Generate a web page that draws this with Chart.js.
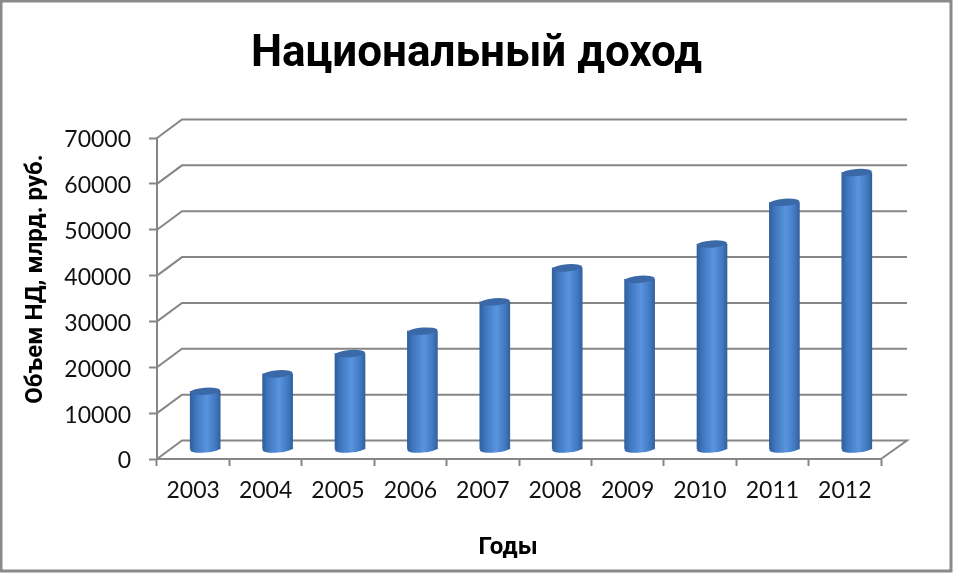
<!DOCTYPE html>
<html lang="ru">
<head>
<meta charset="utf-8">
<title>Национальный доход</title>
<script src="https://cdn.jsdelivr.net/npm/chart.js@4"></script>
<style>
html,body{margin:0;padding:0;background:#fff;}
#box{position:relative;width:953px;height:573px;}
canvas{display:block;filter:blur(0.45px);}
</style>
</head>
<body>
<div id="box"><canvas id="c" width="953" height="573"></canvas></div>
<script>
const categories = ['2003','2004','2005','2006','2007','2008','2009','2010','2011','2012'];
const nationalIncome = [12700,16500,20900,25800,32200,39600,37100,44800,53900,60400];
const chartTitle = 'Национальный доход';
const xTitle = 'Годы';
const yTitle = 'Объем НД, млрд. руб.';

const DEPTH_X = 25, DEPTH_Y = 18.5;      // wall offset of the 3D frame
const BAR_DX = 12, BAR_DY = 9.5;         // cylinders stand mid-depth
const RY = 3.6, TILT = -0.08;
const GREY = '#868686';

function bodyGradient(c, left, width){
  const g = c.createLinearGradient(left, 0, left + width, 0);
  g.addColorStop(0, '#30609e');
  g.addColorStop(0.2, '#4078c0');
  g.addColorStop(0.55, '#5a94de');
  g.addColorStop(0.85, '#4078c0');
  g.addColorStop(1, '#32609c');
  return g;
}

// Shifts a scale's title along its axis without touching the tick layout.
function shiftTitle(scale, side, amount){
  if (scale.__shifted) return;
  scale.__shifted = true;
  const draw = scale.drawTitle;
  scale.drawTitle = function(){
    const keep = this[side];
    this[side] = keep - amount;
    draw.call(this);
    this[side] = keep;
  };
}

const frame3d = {
  id: 'frame3d',
  afterLayout(chart){
    chart.titleBlock.left = 0;
    chart.titleBlock.right = chart.width;
    shiftTitle(chart.scales.y, 'bottom', 39);
    shiftTitle(chart.scales.x, 'right', 22);
  },
  beforeDraw(chart){
    const c = chart.ctx;
    c.save();
    c.fillStyle = '#fff';
    c.fillRect(0, 0, chart.width, chart.height);
    c.strokeStyle = '#8a8a8a';
    c.lineWidth = 3;
    c.strokeRect(1, 1, chart.width - 3, chart.height - 3);
    c.restore();
  },
  beforeDatasetsDraw(chart){
    const c = chart.ctx, y = chart.scales.y, a = chart.chartArea;
    c.save();
    c.strokeStyle = GREY;
    c.lineWidth = 2;
    y.ticks.forEach(t => {
      const py = y.getPixelForValue(t.value);
      c.beginPath();
      c.moveTo(a.left, py);
      c.lineTo(a.left + DEPTH_X, py - DEPTH_Y);
      c.lineTo(a.right + DEPTH_X + 1, py - DEPTH_Y);
      if (t.value === 0) c.lineTo(a.right, py);
      c.stroke();
    });
    c.restore();
  },
  beforeDatasetDraw(chart, args){
    const c = chart.ctx;
    c.save();
    c.translate(BAR_DX, -BAR_DY);
    chart.getDatasetMeta(args.index).data.forEach(b => {
      c.fillStyle = bodyGradient(c, b.x - b.width / 2, b.width);
      c.beginPath();
      c.ellipse(b.x, b.base, b.width / 2, RY, TILT, 0, Math.PI * 2);
      c.fill();
    });
  },
  afterDatasetDraw(chart, args){
    const c = chart.ctx;
    chart.getDatasetMeta(args.index).data.forEach(b => {
      c.fillStyle = '#3b69a8';
      c.beginPath();
      c.ellipse(b.x, b.y, b.width / 2, RY, TILT, 0, Math.PI * 2);
      c.fill();
    });
    c.restore();
  }
};

new Chart(document.getElementById('c'), {
  type: 'bar',
  data: {
    labels: categories,
    datasets: [{
      data: nationalIncome,
      barThickness: 30,
      clip: false,
      borderWidth: 0,
      backgroundColor(ctx){
        const chart = ctx.chart;
        if (ctx.type !== 'data' || !chart.chartArea) return '#4a84cf';
        const x = chart.scales.x.getPixelForValue(ctx.dataIndex);
        return bodyGradient(chart.ctx, x - 15, 30);
      }
    }]
  },
  options: {
    responsive: false,
    animation: false,
    layout: { padding: { left: 22, right: 72, top: 0, bottom: 11 } },
    plugins: {
      legend: { display: false },
      tooltip: { enabled: false },
      title: {
        display: true,
        text: chartTitle,
        color: '#000',
        font: { family: 'Roboto', size: 44, weight: 'bold', lineHeight: 1.2 },
        padding: { top: 29, bottom: 56.2 }
      }
    },
    scales: {
      x: {
        afterFit(s){ s.height = 103; },
        grid: { drawOnChartArea: false, drawTicks: true, tickLength: 7, tickColor: GREY, tickWidth: 2, offset: true },
        border: { color: GREY, width: 2 },
        ticks: { color: '#111', padding: 11, maxRotation: 0, font: { family: 'Lato', size: 23 } },
        title: { display: true, text: xTitle, color: '#000', padding: 0,
                 font: { family: 'Roboto', size: 24, weight: 'bold' } }
      },
      y: {
        min: 0, max: 70000,
        afterFit(s){ s.width = 135; },
        grid: { drawOnChartArea: false, drawTicks: true, tickLength: 8, tickColor: GREY, tickWidth: 2 },
        border: { color: GREY, width: 2 },
        ticks: { stepSize: 10000, color: '#111', padding: 18, labelOffset: 2,
                 format: { useGrouping: false }, font: { family: 'Lato', size: 23 } },
        title: { display: true, text: yTitle, color: '#000', padding: 0,
                 font: { family: 'Roboto', size: 24, weight: 'bold' } }
      }
    }
  },
  plugins: [frame3d]
});
</script>
</body>
</html>
